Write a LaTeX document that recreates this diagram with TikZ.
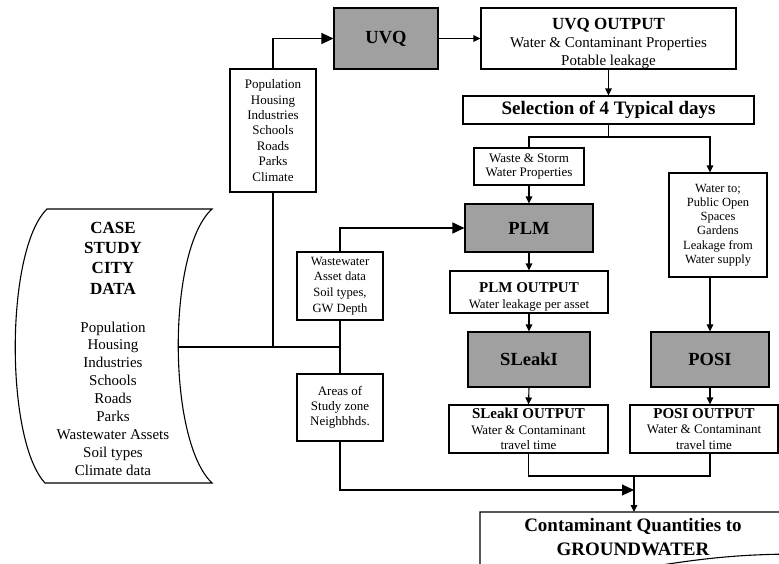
\documentclass[tikz,border=0pt]{standalone}
\usepackage{fontspec}
\setmainfont{Liberation Serif}
\usetikzlibrary{arrows.meta}
\definecolor{modelgray}{RGB}{160,160,160}
\newcommand\setfs[2]{\fontsize{#1}{#2}\selectfont}
\begin{document}
\begin{tikzpicture}[x=1pt,y=-1pt,
  line width=1.1pt,
  box/.style={draw, fill=white, inner sep=0pt, align=center},
  gbox/.style={box, fill=modelgray},
  sarrow/.style={-{Triangle[length=7pt,width=6.5pt]}},
  barrow/.style={-{Triangle[length=12pt,width=11pt]}}]
\useasboundingbox (0,0) rectangle (779,563);

% case study data scroll
\draw[fill=white] (47,209) -- (212,209) .. controls (167,250) and (167,440) .. (212,483)
  -- (45,483) .. controls (5,440) and (5,250) .. (47,209) -- cycle;
\node[align=center, font=\setfs{17}{20.4}\bfseries] (cstitle) at (113,258) {CASE\\STUDY\\CITY\\DATA};
\node[align=center, font=\setfs{15}{17.9}] (csitems) at (113,398.5) {Population\\Housing\\Industries\\Schools\\Roads\\Parks\\Wastewater Assets\\Soil types\\Climate data};
\coordinate (scrollR) at (178,347);

% models and their outputs
\node[gbox, minimum width=104pt, minimum height=61pt, font=\setfs{18.5}{22}\bfseries] (uvq) at (386,38.5) {UVQ};
\node[box, minimum width=255pt, minimum height=61pt, font=\setfs{15}{17.7}] (uvqout) at (608.5,38.5)
  {{\setfs{17}{20}\bfseries\rule{0pt}{21pt}UVQ OUTPUT}\\[1pt]Water \& Contaminant Properties\\Potable leakage};
\node[box, minimum width=291pt, minimum height=28pt, font=\setfs{19}{22}\bfseries] (sel) at (608.5,110) {Selection of 4 Typical days};
\node[box, minimum width=110pt, minimum height=37pt, font=\setfs{13}{14.5}] (ws) at (529,166.5) {Waste \& Storm\\Water Properties};
\node[box, minimum width=98pt, minimum height=104pt, font=\setfs{12.5}{14.3}] (wto) at (718,225) {Water to;\\Public Open\\Spaces\\Gardens\\Leakage from\\Water supply};
\node[gbox, minimum width=128pt, minimum height=48pt, font=\setfs{18.5}{22}\bfseries] (plm) at (529,228) {PLM};
\node[box, minimum width=158pt, minimum height=42pt, font=\setfs{12.8}{16.5}] (plmout) at (529,292)
  {{\setfs{15}{17}\bfseries\rule{0pt}{20pt}PLM OUTPUT}\\Water leakage per asset};
\node[gbox, minimum width=122pt, minimum height=55pt, font=\setfs{18.5}{22}\bfseries] (sleak) at (529,359.5) {SLeakI};
\node[gbox, minimum width=118pt, minimum height=55pt, font=\setfs{18.5}{22}\bfseries] (posi) at (710,359.5) {POSI};
\node[box, minimum width=159pt, minimum height=48pt, font=\setfs{13}{15.2}] (sleakout) at (528.5,429)
  {{\setfs{15}{17}\bfseries SLeakI OUTPUT}\\Water \& Contaminant\\travel time};
\node[box, minimum width=148pt, minimum height=48pt, font=\setfs{13}{15.2}] (posiout) at (704,429)
  {{\setfs{15}{17}\bfseries POSI OUTPUT}\\Water \& Contaminant\\travel time};

% input data boxes
\node[box, minimum width=86pt, minimum height=123pt, font=\setfs{13}{15.4}] (pop) at (273,130.5) {Population\\Housing\\Industries\\Schools\\Roads\\Parks\\Climate};
\node[box, minimum width=86pt, minimum height=68pt, font=\setfs{12.6}{15.6}] (wwa) at (340,286) {Wastewater\\Asset data\\Soil types,\\GW Depth};
\node[box, minimum width=86pt, minimum height=67pt, font=\setfs{13}{15.3}] (areas) at (340,407.5) {Areas of\\Study zone\\Neighbhds.};

% final document-shaped result
\begin{scope}
  \clip (0,0) rectangle (779,563);
  \draw[fill=white] (480,580) -- (480,512) -- (800,512) -- (800,554)
    .. controls (720,554) and (680,562) .. (600,575) -- cycle;
\end{scope}
\node[align=center, font=\setfs{19}{24}\bfseries] (cont) at (633,537) {Contaminant Quantities to\\GROUNDWATER};
\coordinate (contTop) at (634,512);
\coordinate (merge) at (634,476);
\coordinate (mergeL) at (634,490);
\coordinate (split) at (608.5,137);

% connectors
\draw (scrollR) -- (scrollR -| wwa.south);
\draw (pop.south) -- (pop.south |- scrollR);
\draw[barrow] (pop.north) |- (uvq.west);
\draw[sarrow] (uvq.east) -- (uvqout.west);
\draw[sarrow] (uvqout.south) -- (sel.north);
\draw (sel.south) -- (split);
\draw (ws.north) |- (split);
\draw[sarrow] (split) -| (posi.north |- wto.north);
\draw[sarrow] (ws.south) -- (plm.north);
\draw[barrow] (wwa.north) |- (plm.west);
\draw (wwa.south) -- (areas.north);
\draw[sarrow] (plm.south) -- (plmout.north);
\draw[sarrow] (plmout.south) -- (sleak.north);
\draw[sarrow] (posi.north |- wto.south) -- (posi.north);
\draw[sarrow] (sleak.south) -- (sleakout.north);
\draw[sarrow] (posi.south) -- (posi.south |- posiout.north);
\draw (sleakout.south) |- (merge) -| (posi.south |- posiout.south);
\draw[sarrow] (merge) -- (contTop);
\draw[barrow] (areas.south) |- (mergeL);
\end{tikzpicture}
\end{document}
